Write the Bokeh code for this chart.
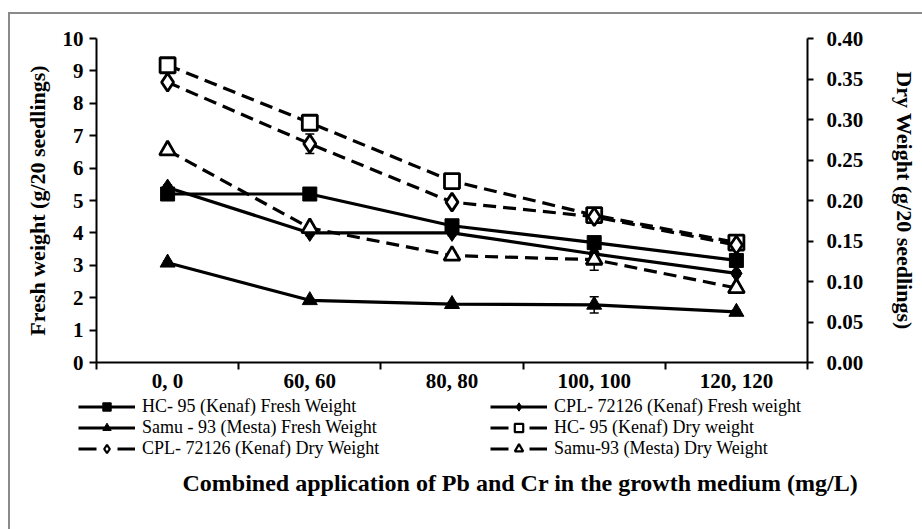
from bokeh.plotting import figure
from bokeh.layouts import column
from bokeh.models import (Range1d, LinearAxis, FixedTicker, Legend, LegendItem,
                          ColumnDataSource, Whisker, TeeHead, Title)
from bokeh.embed import file_html
from bokeh.resources import INLINE

categories = ["0, 0", "60, 60", "80, 80", "100, 100", "120, 120"]

hc_fresh = [5.2, 5.2, 4.22, 3.7, 3.15]
cpl_fresh = [5.4, 4.0, 4.0, 3.35, 2.75]
samu_fresh = [3.08, 1.92, 1.8, 1.78, 1.56]

hc_dry = [0.367, 0.296, 0.224, 0.182, 0.148]
cpl_dry = [0.346, 0.270, 0.198, 0.180, 0.145]
samu_dry = [0.262, 0.166, 0.132, 0.127, 0.092]

hc_fresh_err = [0.08, 0.08, 0.08, 0.08, 0.08]
cpl_fresh_err = [0.08, 0.08, 0.08, 0.08, 0.08]
samu_fresh_err = [0.05, 0.05, 0.05, 0.25, 0.05]
hc_dry_err = [0.006, 0.007, 0.005, 0.004, 0.004]
cpl_dry_err = [0.004, 0.012, 0.004, 0.004, 0.004]
samu_dry_err = [0.004, 0.004, 0.004, 0.013, 0.004]

x_title = "Combined application of Pb and Cr in the growth medium (mg/L)"
fresh_title = "Fresh weight (g/20 seedlings)"
dry_title = "Dry Weight (g/20 seedlings)"
fresh_ticks = list(range(0, 11))
dry_ticks = [0.0, 0.05, 0.10, 0.15, 0.20, 0.25, 0.30, 0.35, 0.40]

FONT = "Liberation Serif"
x = [i + 0.5 for i in range(len(categories))]

p = figure(frame_width=711, frame_height=324, output_backend="svg",
           toolbar_location=None, x_range=Range1d(0, len(categories)),
           y_range=Range1d(0, 10), min_border_left=86, min_border_right=115,
           min_border_top=24, min_border_bottom=0)
p.extra_y_ranges = {"dry": Range1d(0, 0.40)}
p.grid.visible = False
p.outline_line_color = None

# x axis
xa = p.xaxis[0]
xa.ticker = FixedTicker(ticks=x, minor_ticks=list(range(len(categories) + 1)))
xa.major_label_overrides = {xv: c for xv, c in zip(x, categories)}
xa.major_tick_out = 0
xa.major_tick_in = 0
xa.minor_tick_out = 7
xa.minor_tick_in = 0
xa.minor_tick_line_color = "black"
xa.minor_tick_line_width = 2
xa.major_label_standoff = -1

# left axis
ya = p.yaxis[0]
ya.ticker = FixedTicker(ticks=fresh_ticks)
ya.minor_tick_line_color = None
ya.major_tick_out = 7
ya.major_label_standoff = 6
ya.axis_label = fresh_title
ya.axis_label_standoff = 10

# right axis
ra = LinearAxis(y_range_name="dry")
ra.ticker = FixedTicker(ticks=dry_ticks)
ra.major_label_overrides = {v: f"{v:.2f}" for v in dry_ticks}
ra.minor_tick_line_color = None
ra.major_tick_out = 6
ra.major_label_standoff = 13
ra.axis_label = dry_title
ra.axis_label_standoff = 26
if hasattr(ra, "axis_label_orientation"):
    ra.axis_label_orientation = "vertical"
p.add_layout(ra, "right")

for ax in [xa, ya, ra]:
    ax.major_tick_in = 0
    ax.major_tick_line_width = 2
    ax.axis_line_width = 2
    ax.major_label_text_font = FONT
    ax.major_label_text_font_style = "bold"
    ax.major_label_text_font_size = "21px"
    ax.major_label_text_color = "black"
    ax.axis_label_text_font = FONT
    ax.axis_label_text_font_style = "bold"
    ax.axis_label_text_font_size = "22px"
    ax.axis_label_text_color = "black"
    ax.axis_line_color = "black"
    ax.major_tick_line_color = "black"

DASH = "13 7"
series = [
    ("HC- 95 (Kenaf) Fresh Weight", hc_fresh, hc_fresh_err, "square", True, "default", 14),
    ("CPL- 72126 (Kenaf) Fresh weight", cpl_fresh, cpl_fresh_err, "diamond", True, "default", 17),
    ("Samu - 93 (Mesta) Fresh Weight", samu_fresh, samu_fresh_err, "triangle", True, "default", 15),
    ("HC- 95 (Kenaf) Dry weight", hc_dry, hc_dry_err, "square", False, "dry", 15),
    ("CPL- 72126 (Kenaf) Dry Weight", cpl_dry, cpl_dry_err, "diamond", False, "dry", 18),
    ("Samu-93 (Mesta) Dry Weight", samu_dry, samu_dry_err, "triangle", False, "dry", 16),
]

# legend + x-title figure (below the main chart)
LF_H = 70
lf = figure(frame_width=912, frame_height=LF_H, output_backend="svg",
            toolbar_location=None, x_range=Range1d(0, 1), y_range=Range1d(0, 1),
            x_axis_location=None, y_axis_location=None, min_border=0,
            min_border_bottom=72)
lf.grid.visible = False
lf.outline_line_color = None

items = {}
for label, ys, errs, marker, filled, rng, size in series:
    src = ColumnDataSource(dict(x=x, y=ys,
                                upper=[a + b for a, b in zip(ys, errs)],
                                lower=[a - b for a, b in zip(ys, errs)]))
    kw = {} if rng == "default" else {"y_range_name": "dry"}
    p.line("x", "y", source=src, line_color="black", line_width=3.2,
           line_dash="solid" if filled else DASH, **kw)
    p.scatter("x", "y", source=src, marker=marker, size=size,
              fill_color="black" if filled else "white", line_color="black",
              line_width=1 if filled else 2.8, **kw)
    w = Whisker(base="x", upper="upper", lower="lower", source=src,
                line_color="black", line_width=1.5,
                upper_head=TeeHead(size=9, line_color="black", line_width=1.5),
                lower_head=TeeHead(size=9, line_color="black", line_width=1.5), **kw)
    p.add_layout(w)
    # legend proxies
    empty = ColumnDataSource(dict(x=[float("nan")], y=[float("nan")]))
    ln = lf.line("x", "y", source=empty, line_color="black", line_width=3.2,
                 line_dash="solid" if filled else "18 21")
    sc = lf.scatter("x", "y", source=empty, marker=marker, size=size,
                    fill_color="black" if filled else "white", line_color="black",
                    line_width=1 if filled else 2.2)
    items[label] = LegendItem(label=label, renderers=[ln, sc])

col1 = ["HC- 95 (Kenaf) Fresh Weight", "Samu - 93 (Mesta) Fresh Weight", "CPL- 72126 (Kenaf) Dry Weight"]
col2 = ["CPL- 72126 (Kenaf) Fresh weight", "HC- 95 (Kenaf) Dry weight", "Samu-93 (Mesta) Dry Weight"]

# one legend per entry, rows 21 px apart
row_offsets = [48, 27, 6]
for cols, xloc in [(col1, 68), (col2, 480)]:
    for name, yloc in zip(cols, row_offsets):
        lg = Legend(items=[items[name]], location=(xloc, yloc),
                    orientation="vertical", margin=0, padding=0, spacing=0,
                    glyph_width=57, glyph_height=21, label_height=21,
                    label_standoff=7, border_line_color=None,
                    background_fill_alpha=0,
                    label_text_font=FONT, label_text_font_size="18px",
                    label_text_color="black")
        lf.add_layout(lg, "center")

lf.add_layout(Title(text=x_title, align="left", offset=86, standoff=4,
                    text_font=FONT, text_font_style="bold",
                    text_font_size="24px", text_color="black"), "below")

lay = column(p, lf, spacing=0,
             styles={"margin-left": "8px", "margin-top": "12px",
                     "border-left": "2px solid #8a8a8a", "border-top": "2px solid #8a8a8a"})

open("out.html", "w").write(file_html(lay, INLINE))
